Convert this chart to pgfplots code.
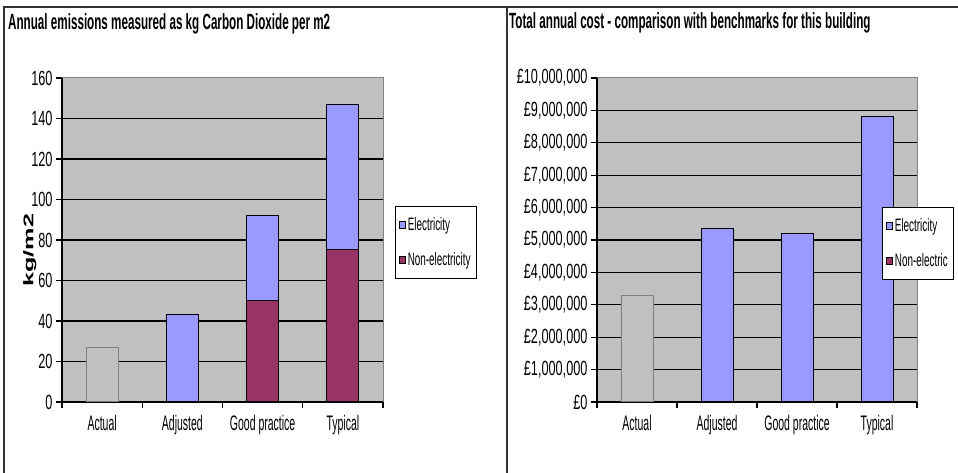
\documentclass[border=0pt]{standalone}
\usepackage{fontspec}
\setmainfont{Liberation Sans}
\newfontfamily\fa[FakeStretch=0.62]{Liberation Sans}
\newfontfamily\fn[FakeStretch=0.5]{Liberation Sans}
\newfontfamily\fl[FakeStretch=0.55]{Liberation Sans}
\newfontfamily\ft[FakeStretch=0.53]{Liberation Sans}
\newfontfamily\fy[FakeStretch=1.8]{Liberation Sans}
\usepackage{pgfplots}
\pgfplotsset{compat=1.18}
\definecolor{plotbg}{RGB}{192,192,192}
\definecolor{elec}{RGB}{153,153,255}
\definecolor{nonelec}{RGB}{153,51,102}
\definecolor{bordergrey}{RGB}{128,128,128}
\pgfplotsset{
 cmn/.style={
  scale only axis, width=321bp, height=324bp, anchor=south west,
  xmin=-0.5, xmax=3.5, ymin=0,
  axis background/.style={fill=plotbg, draw=bordergrey, line width=1bp},
  axis x line*=bottom, axis y line*=left,
  axis line style={black, line width=1.3bp},
  tick align=outside, major tick length=6bp,
  tick style={black, line width=1.3bp},
  xtick={-0.5,0.5,1.5,2.5,3.5}, x tick label as interval,
  xticklabels={Actual,Adjusted,Good practice,Typical},
  xticklabel style={font=\fn\fontsize{21bp}{23bp}\selectfont, yshift=-4bp},
  yticklabel style={font=\fa\fontsize{20.5bp}{22bp}\selectfont},
  /pgf/number format/assume math mode=true,
  ymajorgrids, grid style={black, line width=1.3bp},
  ybar stacked, bar width=32bp,
  every axis plot/.append style={line width=1bp},
  reverse legend,
  legend style={draw=black, line width=0.6bp, fill=white,
    font=\fl\fontsize{18bp}{20bp}\selectfont, anchor=north west,
    inner xsep=4bp, inner ysep=9bp, row sep=17bp, cells={anchor=west}},
  legend image code/.code={\draw[#1, draw=black, line width=0.6bp] (0bp,-3.5bp) rectangle (6bp,3.5bp);},
 }
}
\begin{document}
\begin{tikzpicture}[x=1bp,y=1bp]
\path[use as bounding box] (0,0) rectangle (958,473);
\draw[line width=2bp, black!80] (4,0)--(4,466)--(958,466);
\draw[line width=2bp, black!80] (507,0)--(507,466);
\node[anchor=west, font=\ft\bfseries\fontsize{22bp}{24bp}\selectfont, inner sep=0pt] at (8,449) {Annual emissions measured as kg Carbon Dioxide per m2};
\node[anchor=west, font=\ft\bfseries\fontsize{22bp}{24bp}\selectfont, inner sep=0pt] at (509,450) {Total annual cost - comparison with benchmarks for this building};

\begin{axis}[cmn, at={(62bp,71bp)},
  ymax=160, ytick={0,20,...,140}, extra y ticks={160}, extra y tick style={grid=none},
  ylabel={kg/m2},
  every axis y label/.style={at={(axis description cs:-0.1,0.469)}, rotate=90, anchor=center,
    font=\fy\bfseries\fontsize{14bp}{16bp}\selectfont},
  legend style={at={(1.037,0.605)}}]
\addplot[fill=nonelec, draw=black] coordinates {(0,0) (1,0) (2,50) (3,75.5)};
\addlegendentry{Non-electricity}
\addplot[fill=elec, draw=black] coordinates {(0,0) (1,43) (2,42.3) (3,71.5)};
\addlegendentry{Electricity}
\addplot[fill=plotbg, draw=bordergrey, forget plot] coordinates {(0,27)};
\end{axis}

\begin{axis}[cmn, at={(597bp,71bp)}, width=320bp,
  ymax=10000000, scaled y ticks=false,
  ytick={0,1000000,2000000,3000000,4000000,5000000,6000000,7000000,8000000,9000000},
  extra y ticks={10000000}, extra y tick style={grid=none},
  yticklabel={£\pgfmathprintnumber[fixed,precision=0,1000 sep={,}]{\tick}},
  legend style={at={(0.8906,0.602)}}]
\addplot[fill=nonelec, draw=black] coordinates {(0,0) (1,0) (2,0) (3,0)};
\addlegendentry{Non-electric}
\addplot[fill=elec, draw=black] coordinates {(0,0) (1,5350000) (2,5200000) (3,8800000)};
\addlegendentry{Electricity}
\addplot[fill=plotbg, draw=bordergrey, forget plot] coordinates {(0,3300000)};
\end{axis}
\end{tikzpicture}
\end{document}
